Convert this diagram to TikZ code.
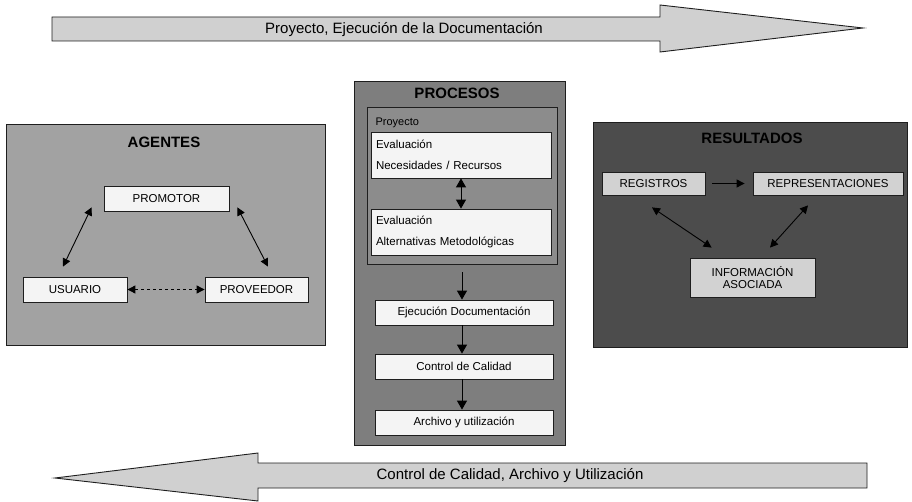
\documentclass[tikz,border=0pt]{standalone}
\usepackage{fontspec}
\setmainfont{Liberation Sans}
\usetikzlibrary{arrows.meta}
\definecolor{arrowfill}{HTML}{D0D0D0}
\definecolor{agfill}{HTML}{A2A2A2}
\definecolor{prfill}{HTML}{7E7E7E}
\definecolor{pyfill}{HTML}{8C8C8C}
\definecolor{refill}{HTML}{4C4C4C}
\definecolor{wbox}{HTML}{F4F4F4}
\definecolor{rbox}{HTML}{D2D2D2}
\definecolor{edge}{HTML}{1E1E1E}
\tikzset{
  panel/.style={draw=edge, line width=1pt, inner sep=0pt},
  wbox/.style={draw=edge, line width=0.8pt, fill=wbox, inner sep=0pt, font=\fontsize{11.5}{13}\selectfont},
  rbox/.style={draw=edge, line width=0.8pt, fill=rbox, inner sep=0pt, font=\fontsize{11.5}{13}\selectfont, align=center},
  ttl/.style={font=\fontsize{15}{17}\selectfont\bfseries},
  bigarrow/.style={draw=edge, line width=0.9pt, fill=arrowfill},
  conn/.style={line width=0.9pt, {Triangle[length=8pt,width=8pt]}-{Triangle[length=8pt,width=8pt]}},
  vconn/.style={line width=1pt, {Triangle[length=9pt,width=10pt]}-{Triangle[length=9pt,width=10pt]}},
  oneway/.style={line width=1pt, -{Triangle[length=9pt,width=10pt]}},
  thinway/.style={line width=0.9pt, -{Triangle[length=8pt,width=8pt]}},
}
\begin{document}
\begin{tikzpicture}[x=1pt,y=-1pt]
\useasboundingbox (0,0) rectangle (912,502);
% big arrows
\draw[bigarrow] (52,17) -- (660,17) -- (660,5) -- (863,28) -- (660,52) -- (660,41) -- (52,41) -- cycle;
\node[font=\fontsize{15}{17}\selectfont] (toptext) at (404,30) {Proyecto, Ejecución de la Documentación};
\draw[bigarrow] (867,463) -- (258,463) -- (258,453) -- (55,478) -- (258,501) -- (258,488) -- (867,488) -- cycle;
\node[font=\fontsize{15}{17}\selectfont] (bottext) at (510,476) {Control de Calidad, Archivo y Utilización};
% AGENTES
\node[panel, fill=agfill, minimum width=319, minimum height=220] (agentes) at (165.5,235) {};
\node[ttl] (agtitle) at (164,142) {AGENTES};
\node[wbox, minimum width=125, minimum height=25] (promotor) at (166.5,198.5) {PROMOTOR};
\node[wbox, minimum width=104, minimum height=25] (usuario) at (75,289.5) {USUARIO};
\node[wbox, minimum width=103, minimum height=25] (proveedor) at (256.5,289.5) {PROVEEDOR};
\draw[conn] ([shift={(-12,-4)}]promotor.south west) -- ([shift={(-12,-10)}]usuario.north);
\draw[conn] ([shift={(8,-4)}]promotor.south east) -- ([shift={(11.5,-10)}]proveedor.north);
\draw[conn, dashed] (usuario.east) -- (proveedor.west);
% PROCESOS
\node[panel, fill=prfill, minimum width=211, minimum height=363] (procesos) at (459.5,263.5) {};
\node[ttl] (prtitle) at (457,93) {PROCESOS};
\node[panel, fill=pyfill, minimum width=190, minimum height=157] (proyecto) at (462.5,186.5) {};
\node[anchor=west, font=\fontsize{11}{13}\selectfont] (pylabel) at (372,123) {Proyecto};
\node[wbox, minimum width=180, minimum height=46, align=left, anchor=center, text width=170, font=\fontsize{11.5}{21}\selectfont] (eval1) at (461,155) {Evaluación\\Necesidades / Recursos};
\node[wbox, minimum width=180, minimum height=46, align=left, anchor=center, text width=170, font=\fontsize{11.5}{21}\selectfont] (eval2) at (461,232) {Evaluación\\Alternativas Metodológicas};
\draw[vconn] (eval1.south) -- (eval2.north);
\node[wbox, minimum width=178, minimum height=25] (ejec) at (464,312.5) {Ejecución Documentación};
\node[wbox, minimum width=178, minimum height=25] (control) at (464,366.5) {Control de Calidad};
\node[wbox, minimum width=178, minimum height=25] (archivo) at (464,422.5) {Archivo y utilización};
\draw[oneway, shorten <=7pt] ([xshift=-0.5pt]proyecto.south) -- ([xshift=-2pt]ejec.north);
\draw[oneway] ([xshift=-2pt]ejec.south) -- ([xshift=-2pt]control.north);
\draw[oneway] ([xshift=-2pt]control.south) -- ([xshift=-2pt]archivo.north);
% RESULTADOS
\node[panel, fill=refill, minimum width=314, minimum height=224] (resultados) at (750,235) {};
\node[ttl, text=black] (retitle) at (752,138) {RESULTADOS};
\node[rbox, minimum width=103, minimum height=23] (registros) at (653.5,183.5) {REGISTROS};
\node[rbox, minimum width=150, minimum height=23] (represent) at (828,183.5) {REPRESENTACIONES};
\node[rbox, minimum width=125, minimum height=39] (info) at (752.5,277.5) {INFORMACIÓN\\[-1pt]ASOCIADA};
\draw[thinway, shorten <=7pt, shorten >=8pt] (registros.east) -- (represent.west);
\draw[conn] ([shift={(-1.5,12)}]registros.south) -- ([shift={(22,-10)}]info.north west);
\draw[conn] ([shift={(-20,10)}]represent.south) -- ([shift={(17.5,-10)}]info.north);
\end{tikzpicture}
\end{document}
